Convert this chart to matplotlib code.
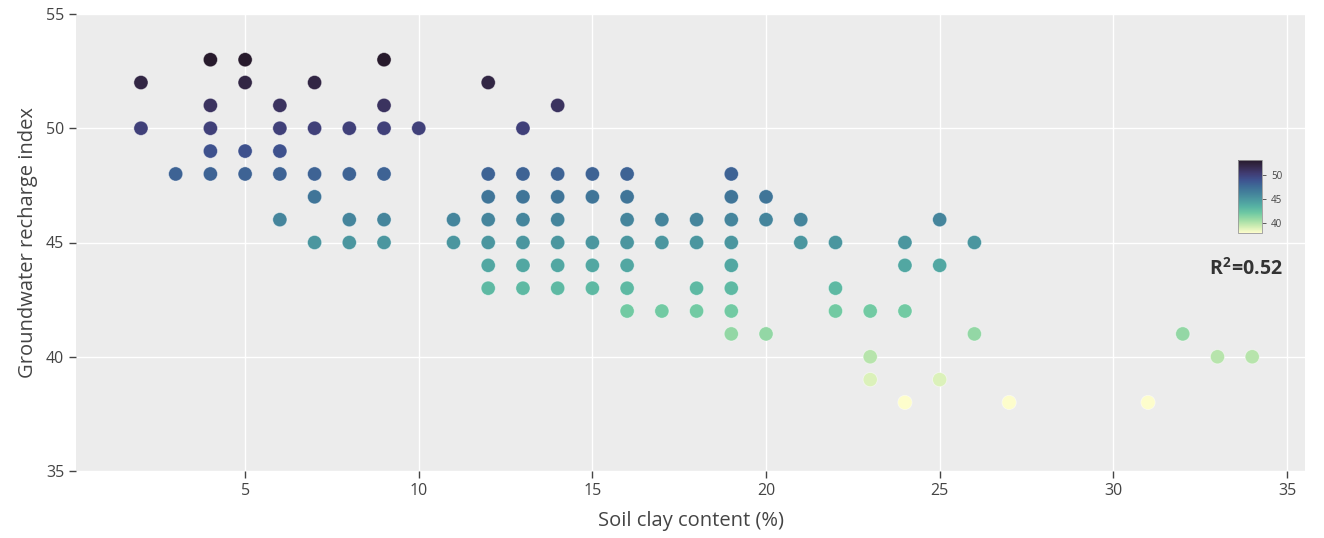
import matplotlib
matplotlib.use("Agg")
import matplotlib.pyplot as plt
import numpy as np
from matplotlib.colors import LinearSegmentedColormap, Normalize

plt.rcParams["font.family"] = ["Open Sans", "DejaVu Sans"]
plt.rcParams["mathtext.fontset"] = "custom"
plt.rcParams["mathtext.rm"] = "Open Sans"
plt.rcParams["mathtext.bf"] = "Open Sans:bold"

# clay content (%) and recharge index, row by row from the picture
clay = [4, 5, 9,
        2, 5, 7, 12,
        4, 6, 9, 14,
        2, 4, 6, 7, 8, 9, 10, 13,
        4, 5, 6,
        3, 4, 5, 6, 7, 8, 9, 12, 13, 14, 15, 16, 19,
        7, 12, 13, 14, 15, 16, 19, 20,
        6, 8, 9, 11, 12, 13, 14, 16, 17, 18, 19, 20, 21, 25,
        7, 8, 9, 11, 12, 13, 14, 15, 16, 17, 18, 19, 21, 22, 24, 26,
        12, 13, 14, 15, 16, 19, 24, 25,
        12, 13, 14, 15, 16, 18, 19, 22,
        16, 17, 18, 19, 22, 23, 24,
        19, 20, 26, 32,
        23, 33, 34,
        23, 25,
        24, 27, 31]
recharge = ([53] * 3 + [52] * 4 + [51] * 4 + [50] * 8 + [49] * 3 + [48] * 13 +
            [47] * 8 + [46] * 14 + [45] * 16 + [44] * 8 + [43] * 8 + [42] * 7 +
            [41] * 4 + [40] * 3 + [39] * 2 + [38] * 3)
r2_text = r"$\mathbf{R^{2}\!=\!0.52}$"
cbar_ticks = [40, 45, 50]

deep = ["#fdfdcc", "#ceecb3", "#9cdba5", "#6fc9a3", "#56b1a3", "#4c99a0",
        "#44829b", "#3e6c96", "#3e528f", "#403c73", "#362b4d", "#271a2c"]
cmap = LinearSegmentedColormap.from_list("deep", deep)
norm = Normalize(vmin=min(recharge), vmax=max(recharge))

W, H = 1324, 538
fig = plt.figure(figsize=(W / 100, H / 100), dpi=100)
ax = fig.add_axes([76 / W, 1 - 471 / H, (1305 - 76) / W, (471 - 14) / H])
ax.set_facecolor("#ececec")

ax.scatter(clay, recharge, c=recharge, cmap=cmap, norm=norm, s=105,
           edgecolors=(1, 1, 1, 0.5), linewidths=0.6, zorder=3)

ax.set_xlim(0.13, 35.52)
ax.set_ylim(35, 55)
ax.set_xticks([5, 10, 15, 20, 25, 30, 35])
ax.set_yticks([35, 40, 45, 50, 55])
ax.grid(True, color="white", linewidth=1.0, zorder=0)
ax.set_axisbelow(True)
for s in ax.spines.values():
    s.set_visible(False)
ax.tick_params(axis="both", colors="#444444", labelsize=11.5, length=5, width=1)
ax.set_xlabel("Soil clay content (%)", fontsize=14.5, color="#444444", labelpad=9)
ax.set_ylabel("Groundwater recharge index", fontsize=14.5, color="#444444", labelpad=6)

ax.text(1246 / W, 1 - 268 / H, r2_text, transform=fig.transFigure, ha="center",
        va="center", fontsize=14, color="#333333")

cax = fig.add_axes([1238 / W, 1 - 233 / H, 24 / W, 73 / H])
cb = fig.colorbar(plt.cm.ScalarMappable(norm=norm, cmap=cmap), cax=cax, ticks=cbar_ticks)
cb.outline.set_edgecolor("#999999")
cb.outline.set_linewidth(0.6)
cax.tick_params(labelsize=7, colors="#444444", length=3, width=0.6)

fig.savefig("out.png", dpi=100)
